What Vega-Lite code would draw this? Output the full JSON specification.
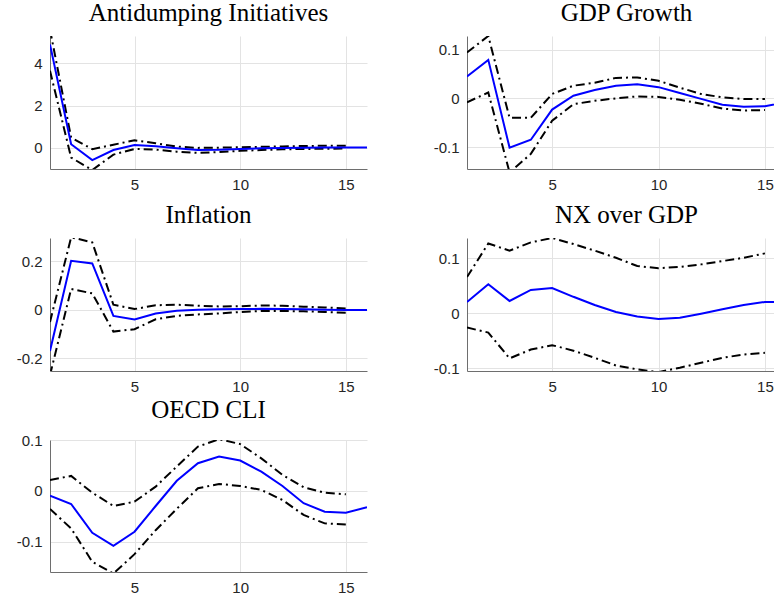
{
  "$schema": "https://vega.github.io/schema/vega-lite/v6.json",
  "background": "white",
  "padding": {"left": 16, "top": 1, "right": 0, "bottom": 0},
  "columns": 2,
  "bounds": "flush",
  "spacing": {"row": 69, "column": 100},
  "datasets": {
    "d": [
      {"p":"A","h":1,"m":4.9,"lo":3.65,"hi":5.6},
      {"p":"A","h":2,"m":0.17,"lo":-0.46,"hi":0.49},
      {"p":"A","h":3,"m":-0.58,"lo":-1.05,"hi":-0.06},
      {"p":"A","h":4,"m":-0.1,"lo":-0.32,"hi":0.15},
      {"p":"A","h":5,"m":0.14,"lo":-0.05,"hi":0.36},
      {"p":"A","h":6,"m":0.08,"lo":-0.08,"hi":0.22},
      {"p":"A","h":7,"m":-0.02,"lo":-0.18,"hi":0.06},
      {"p":"A","h":8,"m":-0.1,"lo":-0.24,"hi":0.0},
      {"p":"A","h":9,"m":-0.09,"lo":-0.2,"hi":0.01},
      {"p":"A","h":10,"m":-0.05,"lo":-0.14,"hi":0.03},
      {"p":"A","h":11,"m":-0.02,"lo":-0.1,"hi":0.05},
      {"p":"A","h":12,"m":0.0,"lo":-0.07,"hi":0.07},
      {"p":"A","h":13,"m":0.01,"lo":-0.05,"hi":0.09},
      {"p":"A","h":14,"m":0.02,"lo":-0.04,"hi":0.1},
      {"p":"A","h":15,"m":0.02,"lo":-0.03,"hi":0.1},
      {"p":"A","h":16,"m":0.02},
      {"p":"G","h":1,"m":0.045,"lo":-0.008,"hi":0.094},
      {"p":"G","h":2,"m":0.079,"lo":0.012,"hi":0.128},
      {"p":"G","h":3,"m":-0.101,"lo":-0.152,"hi":-0.040},
      {"p":"G","h":4,"m":-0.085,"lo":-0.114,"hi":-0.040},
      {"p":"G","h":5,"m":-0.023,"lo":-0.046,"hi":0.009},
      {"p":"G","h":6,"m":0.0055,"lo":-0.012,"hi":0.026},
      {"p":"G","h":7,"m":0.017,"lo":-0.005,"hi":0.032},
      {"p":"G","h":8,"m":0.026,"lo":0.0,"hi":0.042},
      {"p":"G","h":9,"m":0.029,"lo":0.004,"hi":0.043},
      {"p":"G","h":10,"m":0.023,"lo":0.003,"hi":0.036},
      {"p":"G","h":11,"m":0.011,"lo":-0.003,"hi":0.022},
      {"p":"G","h":12,"m":-0.001,"lo":-0.011,"hi":0.009},
      {"p":"G","h":13,"m":-0.013,"lo":-0.021,"hi":0.002},
      {"p":"G","h":14,"m":-0.017,"lo":-0.025,"hi":-0.0015},
      {"p":"G","h":15,"m":-0.016,"lo":-0.024,"hi":-0.0015},
      {"p":"G","h":16,"m":-0.008},
      {"p":"I","h":1,"m":-0.17,"lo":-0.27,"hi":-0.05},
      {"p":"I","h":2,"m":0.203,"lo":0.086,"hi":0.30},
      {"p":"I","h":3,"m":0.192,"lo":0.068,"hi":0.279},
      {"p":"I","h":4,"m":-0.025,"lo":-0.090,"hi":0.021},
      {"p":"I","h":5,"m":-0.040,"lo":-0.080,"hi":0.003},
      {"p":"I","h":6,"m":-0.015,"lo":-0.039,"hi":0.019},
      {"p":"I","h":7,"m":-0.004,"lo":-0.025,"hi":0.021},
      {"p":"I","h":8,"m":0.0,"lo":-0.019,"hi":0.017},
      {"p":"I","h":9,"m":0.002,"lo":-0.015,"hi":0.014},
      {"p":"I","h":10,"m":0.003,"lo":-0.009,"hi":0.015},
      {"p":"I","h":11,"m":0.004,"lo":-0.005,"hi":0.018},
      {"p":"I","h":12,"m":0.003,"lo":-0.005,"hi":0.017},
      {"p":"I","h":13,"m":0.002,"lo":-0.006,"hi":0.013},
      {"p":"I","h":14,"m":0.0,"lo":-0.009,"hi":0.01},
      {"p":"I","h":15,"m":-0.001,"lo":-0.012,"hi":0.005},
      {"p":"I","h":16,"m":-0.001},
      {"p":"N","h":1,"m":0.0206,"lo":-0.026,"hi":0.066},
      {"p":"N","h":2,"m":0.053,"lo":-0.035,"hi":0.127},
      {"p":"N","h":3,"m":0.0224,"lo":-0.082,"hi":0.114},
      {"p":"N","h":4,"m":0.0425,"lo":-0.066,"hi":0.129},
      {"p":"N","h":5,"m":0.046,"lo":-0.058,"hi":0.137},
      {"p":"N","h":6,"m":0.030,"lo":-0.068,"hi":0.126},
      {"p":"N","h":7,"m":0.015,"lo":-0.081,"hi":0.114},
      {"p":"N","h":8,"m":0.0024,"lo":-0.095,"hi":0.101},
      {"p":"N","h":9,"m":-0.006,"lo":-0.102,"hi":0.086},
      {"p":"N","h":10,"m":-0.0104,"lo":-0.107,"hi":0.082},
      {"p":"N","h":11,"m":-0.008,"lo":-0.099,"hi":0.0845},
      {"p":"N","h":12,"m":-0.0007,"lo":-0.090,"hi":0.089},
      {"p":"N","h":13,"m":0.0073,"lo":-0.081,"hi":0.095},
      {"p":"N","h":14,"m":0.015,"lo":-0.075,"hi":0.101},
      {"p":"N","h":15,"m":0.0206,"lo":-0.072,"hi":0.109},
      {"p":"N","h":16,"m":0.021},
      {"p":"O","h":1,"m":-0.0092,"lo":-0.0354,"hi":0.0217},
      {"p":"O","h":2,"m":-0.0256,"lo":-0.0735,"hi":0.0295},
      {"p":"O","h":3,"m":-0.082,"lo":-0.139,"hi":-0.0033},
      {"p":"O","h":4,"m":-0.1076,"lo":-0.162,"hi":-0.0295},
      {"p":"O","h":5,"m":-0.080,"lo":-0.124,"hi":-0.021},
      {"p":"O","h":6,"m":-0.0295,"lo":-0.077,"hi":0.0085},
      {"p":"O","h":7,"m":0.020,"lo":-0.035,"hi":0.048},
      {"p":"O","h":8,"m":0.0545,"lo":0.0053,"hi":0.087},
      {"p":"O","h":9,"m":0.0676,"lo":0.0138,"hi":0.1017},
      {"p":"O","h":10,"m":0.0597,"lo":0.0098,"hi":0.092},
      {"p":"O","h":11,"m":0.038,"lo":0.002,"hi":0.064},
      {"p":"O","h":12,"m":0.0098,"lo":-0.0177,"hi":0.0315},
      {"p":"O","h":13,"m":-0.024,"lo":-0.047,"hi":0.0072},
      {"p":"O","h":14,"m":-0.0407,"lo":-0.0636,"hi":-0.0033},
      {"p":"O","h":15,"m":-0.0427,"lo":-0.0656,"hi":-0.0066},
      {"p":"O","h":16,"m":-0.032}
    ]
  },
  "concat": [
    {
      "title": {"text": "Antidumping Initiatives"},
      "width": 317, "height": 133,
      "data": {"name": "d"},
      "transform": [{"filter": "datum.p == 'A'"}],
      "encoding": {
        "x": {"field": "h", "type": "quantitative", "scale": {"domain": [1, 16], "nice": false, "zero": false}, "axis": {"title": null, "values": [5, 10, 15]}}
      },
      "layer": [
        {
          "transform": [{"fold": ["lo", "hi"]}, {"filter": "isValid(datum.value)"}],
          "mark": {"type": "line", "clip": true, "color": "#000000", "strokeWidth": 2, "strokeDash": [9, 4, 2, 4]},
          "encoding": {
            "y": {"field": "value", "type": "quantitative", "scale": {"domain": [-1.0, 5.3], "nice": false, "zero": false}, "axis": {"title": null, "values": [0, 2, 4], "format": "~g", "labelExpr": "replace(datum.label, '\u2212', '-')"}},
            "detail": {"field": "key"}
          }
        },
        {
          "mark": {"type": "line", "clip": true, "color": "#0000ff", "strokeWidth": 2},
          "encoding": {"y": {"field": "m", "type": "quantitative"}}
        }
      ]
    },
    {
      "title": {"text": "GDP Growth", "dx": 5},
      "width": 309, "height": 133,
      "data": {"name": "d"},
      "transform": [{"filter": "datum.p == 'G'"}],
      "encoding": {
        "x": {"field": "h", "type": "quantitative", "scale": {"domain": [1, 15.52], "nice": false, "zero": false}, "axis": {"title": null, "values": [5, 10, 15]}}
      },
      "layer": [
        {
          "transform": [{"fold": ["lo", "hi"]}, {"filter": "isValid(datum.value)"}],
          "mark": {"type": "line", "clip": true, "color": "#000000", "strokeWidth": 2, "strokeDash": [9, 4, 2, 4]},
          "encoding": {
            "y": {"field": "value", "type": "quantitative", "scale": {"domain": [-0.145, 0.128], "nice": false, "zero": false}, "axis": {"title": null, "values": [-0.1, 0, 0.1], "format": "~g", "labelExpr": "replace(datum.label, '\u2212', '-')"}},
            "detail": {"field": "key"}
          }
        },
        {
          "mark": {"type": "line", "clip": true, "color": "#0000ff", "strokeWidth": 2},
          "encoding": {"y": {"field": "m", "type": "quantitative"}}
        }
      ]
    },
    {
      "title": {"text": "Inflation"},
      "width": 317, "height": 133,
      "data": {"name": "d"},
      "transform": [{"filter": "datum.p == 'I'"}],
      "encoding": {
        "x": {"field": "h", "type": "quantitative", "scale": {"domain": [1, 16], "nice": false, "zero": false}, "axis": {"title": null, "values": [5, 10, 15]}}
      },
      "layer": [
        {
          "transform": [{"fold": ["lo", "hi"]}, {"filter": "isValid(datum.value)"}],
          "mark": {"type": "line", "clip": true, "color": "#000000", "strokeWidth": 2, "strokeDash": [9, 4, 2, 4]},
          "encoding": {
            "y": {"field": "value", "type": "quantitative", "scale": {"domain": [-0.253, 0.297], "nice": false, "zero": false}, "axis": {"title": null, "values": [-0.2, 0, 0.2], "format": "~g", "labelExpr": "replace(datum.label, '\u2212', '-')"}},
            "detail": {"field": "key"}
          }
        },
        {
          "mark": {"type": "line", "clip": true, "color": "#0000ff", "strokeWidth": 2},
          "encoding": {"y": {"field": "m", "type": "quantitative"}}
        }
      ]
    },
    {
      "title": {"text": "NX over GDP", "dx": 5},
      "width": 309, "height": 133,
      "data": {"name": "d"},
      "transform": [{"filter": "datum.p == 'N'"}],
      "encoding": {
        "x": {"field": "h", "type": "quantitative", "scale": {"domain": [1, 15.52], "nice": false, "zero": false}, "axis": {"title": null, "values": [5, 10, 15]}}
      },
      "layer": [
        {
          "transform": [{"fold": ["lo", "hi"]}, {"filter": "isValid(datum.value)"}],
          "mark": {"type": "line", "clip": true, "color": "#000000", "strokeWidth": 2, "strokeDash": [9, 4, 2, 4]},
          "encoding": {
            "y": {"field": "value", "type": "quantitative", "scale": {"domain": [-0.105, 0.137], "nice": false, "zero": false}, "axis": {"title": null, "values": [-0.1, 0, 0.1], "format": "~g", "labelExpr": "replace(datum.label, '\u2212', '-')"}},
            "detail": {"field": "key"}
          }
        },
        {
          "mark": {"type": "line", "clip": true, "color": "#0000ff", "strokeWidth": 2},
          "encoding": {"y": {"field": "m", "type": "quantitative"}}
        }
      ]
    },
    {
      "title": {"text": "OECD CLI"},
      "width": 317, "height": 132,
      "data": {"name": "d"},
      "transform": [{"filter": "datum.p == 'O'"}],
      "encoding": {
        "x": {"field": "h", "type": "quantitative", "scale": {"domain": [1, 16], "nice": false, "zero": false}, "axis": {"title": null, "values": [5, 10, 15]}}
      },
      "layer": [
        {
          "transform": [{"fold": ["lo", "hi"]}, {"filter": "isValid(datum.value)"}],
          "mark": {"type": "line", "clip": true, "color": "#000000", "strokeWidth": 2, "strokeDash": [9, 4, 2, 4]},
          "encoding": {
            "y": {"field": "value", "type": "quantitative", "scale": {"domain": [-0.159, 0.1], "nice": false, "zero": false}, "axis": {"title": null, "values": [-0.1, 0, 0.1], "format": "~g", "labelExpr": "replace(datum.label, '\u2212', '-')"}},
            "detail": {"field": "key"}
          }
        },
        {
          "mark": {"type": "line", "clip": true, "color": "#0000ff", "strokeWidth": 2},
          "encoding": {"y": {"field": "m", "type": "quantitative"}}
        }
      ]
    }
  ],
  "config": {
    "view": {"stroke": null},
    "axis": {
      "grid": true,
      "gridColor": "#e3e3e3",
      "gridWidth": 1,
      "domainColor": "#6e6e6e",
      "domainWidth": 1,
      "ticks": false,
      "labelFont": "Liberation Sans",
      "labelFontSize": 15,
      "labelColor": "#262626",
      "labelFlush": false,
      "labelOverlap": false
    },
    "axisX": {"labelPadding": 8},
    "axisY": {"labelPadding": 8},
    "title": {
      "font": "Liberation Serif",
      "fontSize": 25,
      "fontWeight": "normal",
      "color": "#000000",
      "anchor": "middle",
      "offset": 10,
      "baseline": "alphabetic"
    }
  }
}
